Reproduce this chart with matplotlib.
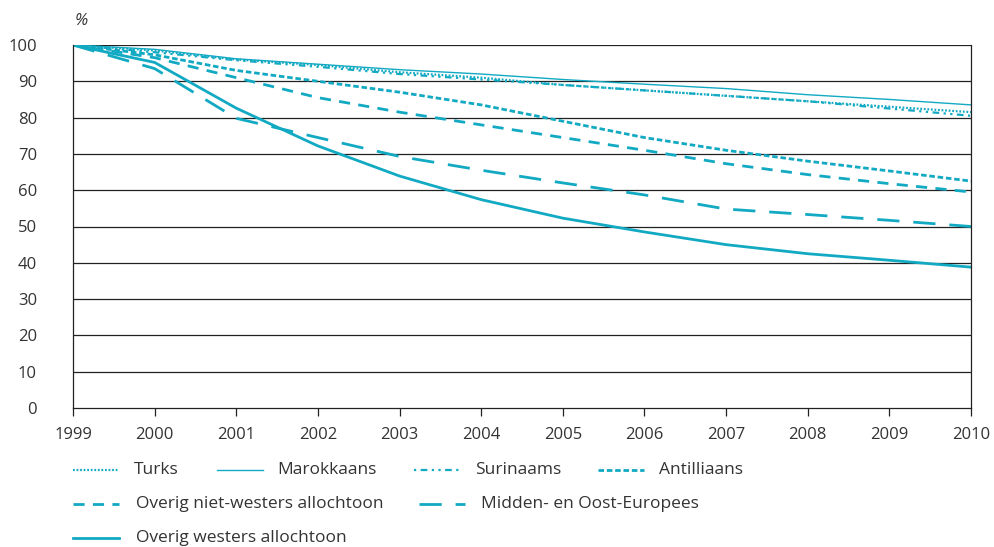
import matplotlib.pyplot as plt
from matplotlib.lines import Line2D

plt.rcParams['font.family'] = ['Open Sans', 'DejaVu Sans']

years = list(range(1999, 2011))

turks = [100, 98.5, 96, 94.5, 92.5, 91, 89, 87.5, 86, 84.5, 83, 81.5]
marokkaans = [100, 98.8, 96.2, 94.7, 93.2, 92, 90.5, 89.2, 88, 86.3, 85, 83.5]
surinaams = [100, 98, 95.8, 94, 92, 90.5, 89, 87.5, 86, 84.5, 82.5, 80.5]
antilliaans = [100, 97.3, 93, 90, 87, 83.5, 79, 74.5, 71, 68, 65.3, 62.5]
overig_nw = [100, 96.5, 91, 85.5, 81.5, 78, 74.5, 71, 67.3, 64.3, 61.8, 59.5]
midden_oost = [100, 93.5, 79.8, 74.5, 69.3, 65.5, 62, 58.7, 54.8, 53.3, 51.7, 50]
overig_w = [100, 95.2, 82.6, 72.2, 63.9, 57.4, 52.3, 48.5, 45, 42.5, 40.7, 38.8]

labels = ["Turks", "Marokkaans", "Surinaams", "Antilliaans",
          "Overig niet-westers allochtoon", "Midden- en Oost-Europees",
          "Overig westers allochtoon"]

col = '#12a9c3'
txt = '#333333'

styles = [
    dict(lw=1.6, ls=(0, (0.8, 0.8))),
    dict(lw=1.0, ls='-'),
    dict(lw=1.6, ls=(0, (1, 2, 3, 2, 1, 2))),
    dict(lw=2.0, ls=(0, (2, 1))),
    dict(lw=2.0, ls=(0, (4, 3))),
    dict(lw=2.0, ls=(0, (8, 5))),
    dict(lw=2.0, ls='-'),
]
series = [turks, marokkaans, surinaams, antilliaans, overig_nw, midden_oost, overig_w]

fig = plt.figure(figsize=(9.95, 5.47), dpi=100)
ax = fig.add_axes([73/995, 1-408/547, (971-73)/995, (408-45)/547])

for s, st in zip(series, styles):
    ax.plot(years, s, color=col, **st)

ax.set_xlim(1999, 2010)
ax.set_ylim(0, 100)
ax.set_yticks(range(0, 101, 10))
ax.set_xticks(years)
for y in range(10, 101, 10):
    ax.axhline(y, color='#222222', lw=0.9, zorder=0)
ax.spines['top'].set_visible(False)
for sp in ['left', 'right', 'bottom']:
    ax.spines[sp].set_color('#222222')
    ax.spines[sp].set_linewidth(0.9)
ax.tick_params(axis='y', length=0, pad=26, labelsize=12, labelcolor=txt)
ax.tick_params(axis='x', length=6, width=0.9, direction='out', pad=8,
               labelsize=12, labelcolor=txt, color='#222222')
fig.text(75/995, 1-21/547, '%', fontsize=12, style='italic', color=txt, va='center')

# legend, placed by hand
W, H = 995, 547
pos = [(73, 470, 134), (217, 470, 277), (414, 470, 475), (598, 470, 659),
       (73, 504, 136), (419, 504, 481), (73, 538, 136)]
for (x0, y0, tx), st, lab in zip(pos, styles, labels):
    fig.add_artist(Line2D([x0/W, (x0+46)/W], [1-y0/H, 1-y0/H], color=col, **st))
    fig.text(tx/W, 1-y0/H, lab, fontsize=12.5, color=txt, va='center')

fig.savefig('out.png', dpi=100)
